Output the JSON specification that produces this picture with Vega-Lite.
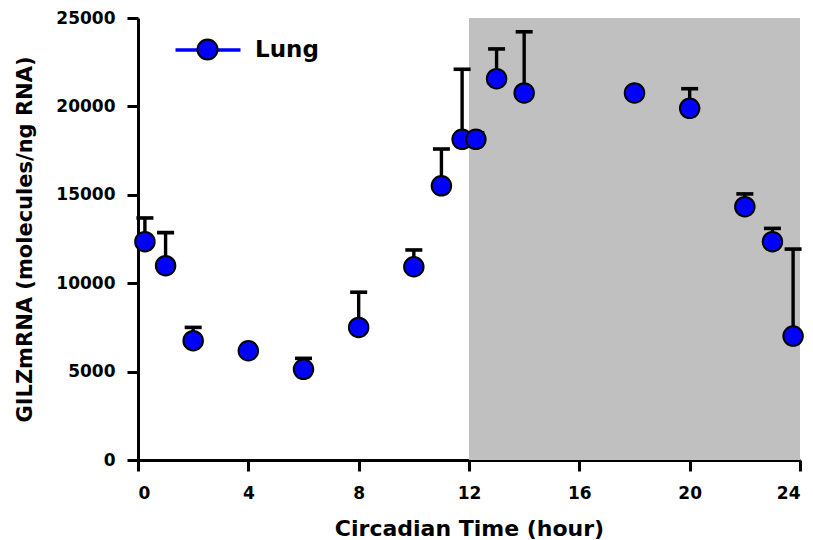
{
  "$schema": "https://vega.github.io/schema/vega-lite/v6.json",
  "width": 662,
  "height": 442,
  "autosize": {"type": "none"},
  "padding": {"left": 138, "top": 18, "right": 13, "bottom": 80},
  "background": "white",
  "config": {
    "font": "DejaVu Sans",
    "view": {"stroke": null},
    "axis": {
      "grid": false,
      "domainColor": "black",
      "domainWidth": 3,
      "tickColor": "black",
      "tickWidth": 3,
      "tickSize": 11,
      "labelFont": "DejaVu Sans",
      "labelFontWeight": "bold",
      "labelFontSize": 17,
      "labelColor": "black",
      "titleFont": "DejaVu Sans",
      "titleFontWeight": "bold",
      "titleColor": "black"
    }
  },
  "datasets": {
    "lung": [
      {"time": 0.25, "mean": 12350, "upper": 13690, "series": "Lung"},
      {"time": 1, "mean": 10990, "upper": 12860, "series": "Lung"},
      {"time": 2, "mean": 6750, "upper": 7500, "series": "Lung"},
      {"time": 4, "mean": 6180, "upper": null, "series": "Lung"},
      {"time": 6, "mean": 5130, "upper": 5750, "series": "Lung"},
      {"time": 8, "mean": 7500, "upper": 9490, "series": "Lung"},
      {"time": 10, "mean": 10930, "upper": 11880, "series": "Lung"},
      {"time": 11, "mean": 15510, "upper": 17590, "series": "Lung"},
      {"time": 11.75, "mean": 18140, "upper": 22100, "series": "Lung"},
      {"time": 12.25, "mean": 18140, "upper": 18500, "series": "Lung"},
      {"time": 13, "mean": 21570, "upper": 23250, "series": "Lung"},
      {"time": 14, "mean": 20760, "upper": 24220, "series": "Lung"},
      {"time": 18, "mean": 20760, "upper": null, "series": "Lung"},
      {"time": 20, "mean": 19890, "upper": 21000, "series": "Lung"},
      {"time": 22, "mean": 14330, "upper": 15050, "series": "Lung"},
      {"time": 23, "mean": 12350, "upper": 13100, "series": "Lung"},
      {"time": 23.75, "mean": 7010, "upper": 11930, "series": "Lung"}
    ],
    "dark": [{"dark_start": 12, "dark_end": 24}]
  },
  "layer": [
    {
      "data": {"name": "dark"},
      "mark": {"type": "rect", "color": "#C0C0C0"},
      "encoding": {
        "x": {
          "field": "dark_start",
          "type": "quantitative",
          "scale": {"domain": [0, 24], "nice": false},
          "axis": {
            "values": [0, 4, 8, 12, 16, 20, 24],
            "title": "Circadian Time (hour)",
            "titleFontSize": 22,
            "titlePadding": 17,
            "labelPadding": 14
          }
        },
        "x2": {"field": "dark_end"}
      }
    },
    {
      "data": {"name": "lung"},
      "transform": [{"filter": "datum.upper != null"}],
      "mark": {"type": "rule", "strokeWidth": 3.4, "color": "black"},
      "encoding": {
        "x": {"field": "time", "type": "quantitative"},
        "y": {"field": "mean", "type": "quantitative"},
        "y2": {"field": "upper"}
      }
    },
    {
      "data": {"name": "lung"},
      "mark": {"type": "rule", "strokeWidth": 3.5, "strokeCap": "butt"},
      "encoding": {
        "x": {"field": "time", "type": "quantitative"},
        "y": {"field": "mean", "type": "quantitative"},
        "y2": {"field": "mean"},
        "stroke": {
          "field": "series",
          "type": "nominal",
          "scale": {"domain": ["Lung"], "range": ["#0000FF"]},
          "legend": {
            "orient": "none",
            "legendX": 58,
            "legendY": 20,
            "padding": 0,
            "title": null,
            "symbolType": "M-3.25,0L-1,0M1,0L3.25,0",
            "symbolSize": 400,
            "symbolStrokeWidth": 3.5,
            "symbolFillColor": "transparent",
            "labelOffset": 36,
            "labelFontSize": 23,
            "labelFontWeight": "bold",
            "labelOpacity": 0
          }
        }
      }
    },
    {
      "data": {"name": "lung"},
      "transform": [{"filter": "datum.upper != null"}],
      "mark": {"type": "tick", "orient": "horizontal", "color": "black", "opacity": 1, "size": 17, "thickness": 3.6},
      "encoding": {
        "x": {"field": "time", "type": "quantitative"},
        "y": {"field": "upper", "type": "quantitative"}
      }
    },
    {
      "data": {"name": "lung"},
      "mark": {"type": "point", "shape": "circle", "filled": true, "size": 380, "stroke": "black", "strokeWidth": 2, "opacity": 1},
      "encoding": {
        "x": {"field": "time", "type": "quantitative"},
        "y": {
          "field": "mean",
          "type": "quantitative",
          "scale": {"domain": [0, 25000], "nice": false},
          "axis": {
            "values": [0, 5000, 10000, 15000, 20000, 25000],
            "format": "d",
            "title": "GILZmRNA (molecules/ng RNA)",
            "titleFontSize": 21,
            "titlePadding": 20,
            "labelPadding": 12
          }
        },
        "fill": {
          "field": "series",
          "type": "nominal",
          "scale": {"range": ["#0000FF"]},
          "legend": {
            "orient": "none",
            "legendX": 58,
            "legendY": 20,
            "padding": 0,
            "title": null,
            "symbolType": "circle",
            "symbolSize": 400,
            "symbolStrokeColor": "black",
            "symbolStrokeWidth": 2,
            "labelOffset": 36,
            "labelFontSize": 23,
            "labelFontWeight": "bold",
            "labelColor": "black",
            "encode": {"symbols": {"update": {"stroke": {"value": "black"}, "strokeWidth": {"value": 2}}}}
          }
        }
      }
    }
  ]
}
